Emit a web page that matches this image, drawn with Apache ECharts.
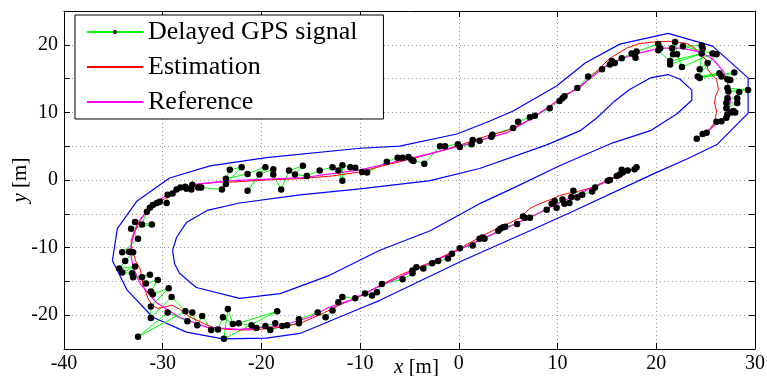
<!DOCTYPE html>
<html>
<head>
<meta charset="utf-8">
<script src="https://cdn.jsdelivr.net/npm/echarts@6/dist/echarts.min.js"></script>
<style>
  html, body { margin: 0; padding: 0; background: #fff; }
  #chart { width: 767px; height: 376px; }
</style>
</head>
<body>
<div id="chart"></div>
<script>
// Track limits (closed polygons), x/y in metres
const outerBoundary = [[-35.1,-11.9],[-34.9,-10.1],[-34.6,-7.2],[-32.6,-3.1],[-29.3,0.3],[-25.2,2.1],[-19.5,3.3],[-10.0,4.7],[-6.0,5.0],[-0.2,6.8],[3.1,8.7],[5.5,10.2],[9.9,13.9],[12.8,17.3],[16.3,20.1],[21.2,21.7],[25.7,19.8],[29.3,15.1],[29.3,9.9],[26.2,5.3],[23.1,3.1],[19.7,0.9],[11.3,-4.8],[7.2,-7.5],[0.4,-11.9],[-8.0,-17.8],[-10.0,-19.0],[-16.1,-22.7],[-19.5,-23.4],[-23.9,-23.5],[-27.6,-22.5],[-31.0,-20.3],[-33.6,-16.3],[-35.1,-11.9]];
const innerBoundary = [[-29.0,-10.4],[-28.6,-8.5],[-27.6,-6.3],[-25.5,-4.5],[-22.2,-3.4],[-16.1,-2.2],[-10.0,-1.3],[-2.9,-0.1],[2.1,1.7],[8.9,5.2],[12.3,7.3],[14.0,9.2],[15.8,11.7],[17.3,13.4],[19.4,15.1],[21.2,15.6],[22.4,14.9],[23.6,13.3],[23.6,11.8],[22.1,9.8],[19.4,7.3],[15.6,5.5],[10.2,2.1],[5.5,-1.2],[2.1,-3.5],[-2.9,-7.5],[-8.0,-10.4],[-13.1,-14.1],[-18.1,-16.8],[-22.2,-17.5],[-26.6,-15.9],[-28.3,-13.8],[-28.8,-12.4],[-29.0,-10.4]];

// Delayed GPS fixes, in the order they were received
const gpsFixes = [
  [18.0,1.9],[17.8,1.6],[17.1,1.4],[16.5,1.5],[16.6,1.1],[16.3,0.8],[16.0,0.6],[15.3,0.0],[15.1,-0.1],[13.8,-1.1],[13.5,-1.7],[12.5,-2.2],[11.6,-1.6],[12.0,-2.6],[11.4,-2.5],[11.2,-3.4],[10.5,-2.9],[10.7,-3.5],[9.7,-3.1],[9.9,-4.1],[9.4,-3.5],[8.9,-4.4],[7.2,-5.6],[6.7,-5.6],[6.5,-5.4],[5.9,-6.5],[4.7,-6.9],[4.5,-7.0],[4.2,-7.2],[4.0,-7.5],[2.6,-8.7],[2.4,-8.5],[2.1,-8.7],[1.4,-9.7],[0.1,-10.1],[-0.7,-10.9],[-1.1,-11.6],[-2.1,-12.0],[-2.7,-12.3],[-3.6,-13.1],[-4.3,-12.9],[-4.7,-13.4],[-4.7,-13.8],[-5.7,-14.7],[-7.8,-15.4],[-8.3,-16.6],[-8.8,-17.1],[-9.5,-16.8],[-10.5,-17.5],[-11.8,-17.3],[-12.2,-18.1],[-12.8,-19.3],[-13.5,-20.3],[-14.3,-19.6],[-16.2,-20.6],[-16.2,-21.2],[-17.4,-21.5],[-17.9,-21.6],[-19.1,-22.2],[-18.6,-21.2],[-19.6,-21.6],[-20.5,-21.9],[-21.0,-21.5],[-22.3,-21.2],[-18.4,-19.4],[-23.8,-23.5],[-23.4,-19.1],[-22.9,-21.3],[-23.9,-20.3],[-24.4,-22.1],[-25.1,-22.2],[-26.0,-20.1],[-26.5,-21.5],[-27.0,-19.6],[-27.5,-20.9],
  [-29.5,-19.6],[-32.5,-23.2],[-27.7,-19.4],[-29.1,-17.3],[-31.2,-20.4],[-31.2,-18.7],[-29.4,-16.0],[-31.0,-16.9],[-31.2,-16.5],[-30.5,-14.8],[-31.7,-15.3],[-32.1,-14.4],[-31.3,-14.0],[-33.0,-14.4],[-33.1,-13.8],[-34.1,-13.7],[-32.8,-12.8],[-34.4,-13.1],[-33.8,-12.0],[-33.0,-10.7],[-33.4,-10.6],[-34.1,-10.7],
  [-32.5,-8.7],[-33.2,-7.2],[-31.1,-6.6],[-32.8,-6.2],[-32.1,-6.6],[-31.6,-4.7],[-31.3,-4.1],[-31.0,-3.7],[-30.6,-3.4],[-30.3,-3.2],[-29.6,-3.4],[-29.5,-2.2],[-29.0,-2.0],[-28.6,-1.4],[-28.2,-1.1],[-27.7,-1.0],[-27.6,-1.3],[-27.1,-1.4],[-27.0,-0.7],[-26.4,-1.1],[-26.1,-1.1],
  [-24.0,-1.4],[-23.2,1.5],[-22.0,1.9],[-23.6,-0.6],[-23.6,0.2],[-21.4,0.9],[-19.6,1.9],[-21.4,-1.6],[-20.2,0.8],[-18.8,1.6],[-18.8,0.8],[-18.0,-1.4],[-17.2,1.4],[-15.8,2.1],[-16.6,0.8],[-15.4,0.6],[-14.1,1.4],[-12.8,1.9],[-12.2,1.4],[-11.8,-0.1],[-11.8,2.2],[-11.0,1.9],[-10.5,1.8],[-9.8,1.2],[-9.3,1.1],[-7.3,2.7],[-6.2,3.3],[-5.7,3.3],[-5.1,3.4],[-4.8,3.0],[-4.6,2.8],[-3.5,2.4],[-1.9,5.0],[-1.4,5.0],[-0.1,5.3],[0.1,4.9],[1.3,5.3],[1.4,5.9],[2.1,5.8],[3.3,6.4],[3.4,6.7],[5.5,7.7],[6.0,8.6],[7.2,9.3],[7.7,9.5],[9.2,10.6],[10.2,11.7],[10.5,12.1],[10.7,12.4],[12.0,13.6],[13.1,15.3],[14.5,16.4],[15.3,17.1],[15.5,17.6],[15.8,17.3],[16.5,18.0],[17.5,18.7],[17.8,18.6],[17.9,18.1],[18.0,19.0],
  [20.2,20.1],[20.4,19.5],[20.2,19.2],[21.4,17.6],[24.6,18.7],[21.4,17.1],[21.6,19.5],[21.7,18.6],[21.9,20.4],[22.1,18.6],[22.6,16.7],[25.7,18.7],[22.7,19.8],[24.6,19.9],[24.7,19.5],[24.4,16.4],[25.2,17.3],[26.1,18.6],[24.2,15.3],[26.4,15.8],[24.4,15.1],[27.9,15.9],[26.6,15.3],[27.2,14.9],[27.5,14.8],[27.2,13.6],[29.3,13.3],[27.3,13.1],[28.4,13.0],[28.2,12.1],[27.2,12.1],[27.1,11.4],[28.2,11.4],[27.1,10.6],[27.8,10.2],[28.0,10.0],[27.6,10.0],[27.2,9.7],[27.1,9.2],[26.6,8.7],[26.1,8.6],[25.1,7.0],[24.7,6.8],[24.1,6.1]
];

// Filtered position estimate
const estimation = [[18.0,1.8],[16.3,0.9],[15.0,-0.1],[13.3,-1.2],[12.3,-1.6],[11.3,-1.9],[10.2,-2.3],[9.5,-2.8],[8.9,-3.1],[8.2,-3.5],[7.2,-4.2],[6.2,-5.6],[5.2,-6.3],[3.4,-7.5],[2.1,-8.5],[0.1,-10.1],[-2.9,-12.2],[-6.0,-14.1],[-8.0,-15.6],[-10.0,-17.2],[-12.1,-18.5],[-13.6,-19.6],[-14.8,-20.4],[-16.1,-21.2],[-18.1,-21.8],[-20.2,-22.1],[-21.9,-22.2],[-23.5,-22.1],[-24.9,-21.8],[-25.9,-21.2],[-27.3,-20.2],[-28.3,-19.1],[-29.1,-18.5],[-29.8,-18.8],[-30.5,-19.0],[-31.1,-18.5],[-31.5,-17.5],[-31.7,-16.6],[-32.0,-15.6],[-32.1,-14.4],[-32.3,-13.1],[-32.7,-12.1],[-33.1,-10.4],[-33.2,-9.0],[-33.0,-8.1],[-32.6,-7.0],[-32.3,-6.0],[-31.5,-4.5],[-30.6,-3.5],[-29.6,-2.6],[-28.6,-1.7],[-27.6,-1.0],[-26.2,-0.6],[-24.5,-0.3],[-22.9,-0.3],[-19.5,0.0],[-16.1,0.2],[-12.8,0.6],[-10.0,1.2],[-7.7,2.1],[-4.3,3.3],[-0.9,4.7],[0.8,5.5],[2.8,6.5],[4.9,7.3],[6.9,8.7],[8.9,10.6],[10.9,12.7],[12.3,13.7],[13.6,15.6],[15.3,18.0],[17.0,19.5],[18.3,20.2],[20.4,20.5],[21.7,20.5],[23.1,20.2],[23.9,19.5],[24.4,18.6],[25.1,17.7],[25.2,16.4],[25.6,15.6],[26.1,14.9],[26.3,13.4],[26.0,12.4],[25.9,11.4],[26.1,10.2],[26.0,9.2],[25.8,8.3],[25.4,7.5],[24.7,6.8],[24.1,6.2]];

// Reference trajectory
const reference = [[18.0,1.8],[11.3,-2.6],[7.2,-5.5],[2.1,-8.9],[-2.9,-12.3],[-8.0,-15.7],[-11.0,-17.8],[-13.1,-18.8],[-15.1,-20.3],[-18.1,-21.6],[-22.2,-22.1],[-25.5,-21.8],[-28.3,-20.3],[-30.6,-18.2],[-32.3,-15.3],[-33.0,-12.9],[-33.3,-10.4],[-33.1,-9.0],[-32.6,-6.5],[-31.6,-4.5],[-30.3,-2.9],[-28.6,-1.4],[-26.6,-0.6],[-22.9,-0.1],[-16.1,0.3],[-10.0,1.5],[-7.3,2.4],[-2.9,3.9],[0.8,5.3],[4.9,7.0],[7.5,9.2],[9.5,11.2],[12.3,13.9],[15.3,17.3],[18.0,18.7],[20.4,19.5],[22.4,19.5],[24.4,19.0],[25.7,17.9],[26.8,16.1],[27.3,13.9],[27.5,11.7],[27.3,9.8],[26.1,8.3],[24.9,6.8],[24.4,6.4]];

const xTicks = [-40, -30, -20, -10, 0, 10, 20, 30];
const yLabelled = [-20, -10, 0, 10, 20];

const FONT = '"Liberation Serif", "Times New Roman", serif';
const black = '#000';
const clear = 'rgba(0,0,0,0)';

function frameAxis(pos, isX) {
  return {
    type: 'value',
    position: pos,
    min: isX ? xTicks[0] : -25,
    max: isX ? xTicks[xTicks.length - 1] : 25,
    interval: isX ? 10 : 5,
    axisLine: { show: true, onZero: false, lineStyle: { color: black, width: 1 } },
    axisTick: { show: true, inside: true, length: 6, lineStyle: { color: black } },
    axisLabel: { show: false },
    splitLine: { show: false }
  };
}

const chart = echarts.init(document.getElementById('chart'), null, { renderer: 'canvas' });
chart.setOption({
  animation: false,
  backgroundColor: '#fff',
  grid: { left: 64, right: 12, top: 11, bottom: 27, outerBoundsMode: 'none', containLabel: false },
  legend: {
    orient: 'vertical',
    left: 75,
    top: 15,
    padding: [2, 26, 2, 11],
    itemWidth: 56,
    itemHeight: 5,
    itemGap: 5,
    borderColor: black,
    borderWidth: 1,
    backgroundColor: '#fff',
    data: ['Delayed GPS signal', 'Estimation', 'Reference'],
    textStyle: { fontFamily: FONT, fontSize: 26, color: black, lineHeight: 30 }
  },
  xAxis: [
    Object.assign(frameAxis('bottom', true), {
      axisLabel: { show: true, fontFamily: FONT, fontSize: 20, color: black, margin: 5 },
      splitLine: { show: true, lineStyle: { color: '#999', width: 1, type: [1, 3] } },
      name: '{i|x} [m]',
      nameLocation: 'middle',
      nameGap: 8,
      nameMoveOverlap: false,
      nameTextStyle: {
        fontFamily: FONT, fontSize: 21, color: black, verticalAlign: 'top',
        padding: [0, 0, 0, 14],
        rich: { i: { fontFamily: FONT, fontSize: 21, fontStyle: 'italic', color: black } }
      }
    }),
    frameAxis('top', true)
  ],
  yAxis: [
    Object.assign(frameAxis('left', false), {
      axisLabel: {
        show: true, fontFamily: FONT, fontSize: 20, color: black, margin: 6,
        formatter: v => (yLabelled.indexOf(v) >= 0 ? String(v) : '')
      },
      splitLine: { show: true, lineStyle: { color: '#999', width: 1, type: [1, 3] } },
      name: '{i|y} [m]',
      nameLocation: 'middle',
      nameGap: 33,
      nameRotate: 90,
      nameMoveOverlap: false,
      nameTextStyle: {
        fontFamily: FONT, fontSize: 21, color: black,
        rich: { i: { fontFamily: FONT, fontSize: 21, fontStyle: 'italic', color: black } }
      }
    }),
    frameAxis('right', false)
  ],
  series: [
    {
      name: 'outer limit', type: 'line', data: outerBoundary, symbol: 'none', silent: true,
      lineStyle: { color: '#0000ff', width: 1.2 }
    },
    {
      name: 'inner limit', type: 'line', data: innerBoundary, symbol: 'none', silent: true,
      lineStyle: { color: '#0000ff', width: 1.2 }
    },
    {
      name: 'Delayed GPS signal', type: 'line', data: gpsFixes,
      symbol: 'circle', symbolSize: 6.5, showAllSymbol: true,
      lineStyle: { color: '#00ff00', width: 1 },
      itemStyle: { color: black, borderWidth: 0 }
    },
    {
      name: 'Estimation', type: 'line', data: estimation, symbol: 'none',
      lineStyle: { color: '#ff0000', width: 1 },
      itemStyle: { color: clear, borderWidth: 0 }
    },
    {
      name: 'Reference', type: 'line', data: reference, symbol: 'none',
      lineStyle: { color: '#ff00ff', width: 1.2 },
      itemStyle: { color: clear, borderWidth: 0 }
    }
  ]
});
</script>
</body>
</html>
